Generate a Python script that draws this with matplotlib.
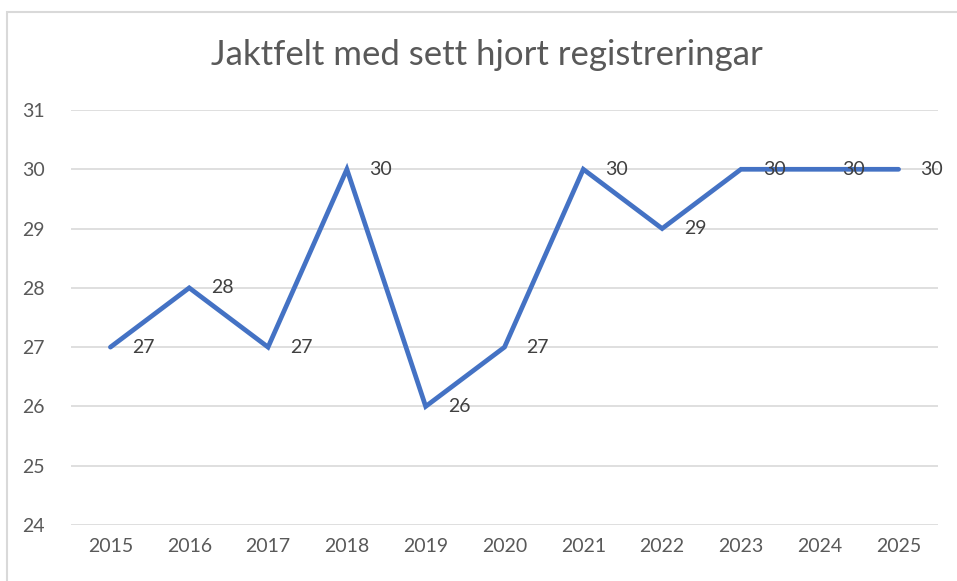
import matplotlib
matplotlib.use("Agg")
import matplotlib.pyplot as plt
from matplotlib.patches import Rectangle

years = ["2015", "2016", "2017", "2018", "2019", "2020", "2021", "2022", "2023", "2024", "2025"]
values = [27, 28, 27, 30, 26, 27, 30, 29, 30, 30, 30]
yticks = [24, 25, 26, 27, 28, 29, 30, 31]

plt.rcParams["font.family"] = ["Lato", "DejaVu Sans"]

W, H = 957, 581
fig = plt.figure(figsize=(W / 100, H / 100), dpi=100)
ax = fig.add_axes([71 / W, 1 - 525 / H, (938 - 71) / W, (525 - 110) / H])

# chart border (left and top visible)
fig.patches.append(Rectangle((7 / W, -0.1), 1.2, 1 - 12 / H + 0.1, transform=fig.transFigure,
                             fill=False, edgecolor="#D9D9D9", linewidth=1.5))

x = range(len(years))
ax.plot(x, values, color="#4472C4", linewidth=3.4, solid_capstyle="round",
        solid_joinstyle="miter", zorder=3)

for i, v in enumerate(values):
    ax.annotate(str(v), (i, v), xytext=(22, 0), textcoords="offset pixels",
                ha="left", va="center", fontsize=14, color="#404040", zorder=4)

ax.set_xlim(-0.5, len(years) - 0.5)
ax.set_ylim(24, 31)
ax.set_yticks(yticks)
ax.set_xticks(list(x))
ax.set_xticklabels(years)
ax.grid(axis="y", color="#D9D9D9", linewidth=1.2)
ax.set_axisbelow(True)
for s in ax.spines.values():
    s.set_visible(False)
ax.tick_params(length=0, labelsize=14, labelcolor="#595959")
ax.tick_params(axis="y", pad=19)
ax.tick_params(axis="x", pad=9)

fig.text(487 / W, 1 - 55 / H, "Jaktfelt med sett hjort registreringar", ha="center", va="center",
         fontsize=25, color="#595959")

fig.savefig("out.png", dpi=100)
